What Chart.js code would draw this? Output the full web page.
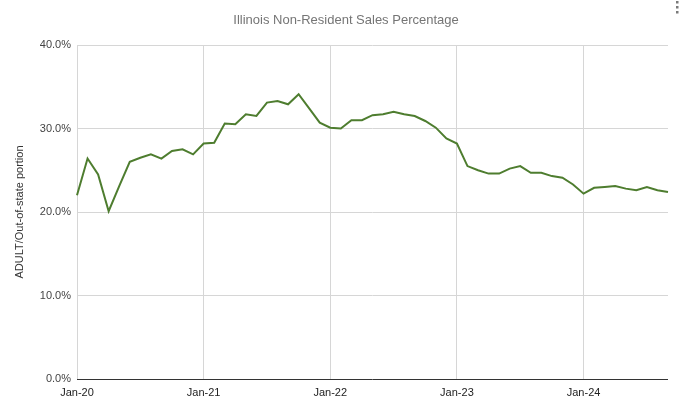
<!DOCTYPE html>
<html>
<head>
<meta charset="utf-8">
<script src="https://cdn.jsdelivr.net/npm/chart.js@4.4.1/dist/chart.umd.min.js"></script>
<style>
  html, body { margin: 0; padding: 0; background: #fff; }
  #wrap { width: 684px; height: 409px; position: relative; }
</style>
</head>
<body>
<div id="wrap"><canvas id="grafico" width="684" height="409"></canvas></div>
<script>
// Datos (porcentaje fuera del estado, mensual)
const meses = [];
const anios = ['20', '21', '22', '23', '24'];
const nombresMes = ['Jan', 'Feb', 'Mar', 'Apr', 'May', 'Jun', 'Jul', 'Aug', 'Sep', 'Oct', 'Nov', 'Dec'];
anios.forEach(a => nombresMes.forEach(m => meses.push(m + '-' + a)));
const etiquetas = meses.slice(0, 57); // Jan-20 .. Sep-24

const valores = [
  22.0, 26.4, 24.5, 20.1, 23.1, 26.0, 26.5, 26.9, 26.4, 27.3, 27.5, 26.9,
  28.2, 28.3, 30.6, 30.5, 31.7, 31.5, 33.1, 33.3, 32.9, 34.1, 32.4, 30.7,
  30.1, 30.0, 31.0, 31.0, 31.6, 31.7, 32.0, 31.7, 31.5, 30.9, 30.1, 28.8,
  28.2, 25.5, 25.0, 24.6, 24.6, 25.2, 25.5, 24.7, 24.7, 24.3, 24.1, 23.3,
  22.2, 22.9, 23.0, 23.1, 22.8, 22.6, 23.0, 22.6, 22.4
];

const titulo = 'Illinois Non-Resident Sales Percentage';
const tituloEje = 'ADULT/Out-of-state portion';

const fuente = "'Liberation Sans', Arial, sans-serif";

// Titulo y menu dibujados a mano
const extras = {
  id: 'extras',
  afterDraw(chart) {
    const ctx = chart.ctx;
    ctx.save();
    ctx.font = '13px ' + fuente;
    ctx.fillStyle = '#757575';
    ctx.textAlign = 'center';
    ctx.textBaseline = 'middle';
    ctx.fillText(titulo, 346, 20);
    // menu de tres puntos
    ctx.fillStyle = '#7a7a7a';
    [2, 7, 12].forEach(y => {
      ctx.fillRect(676, y - 1, 2.5, 2.5);
    });
    ctx.restore();
  }
};

new Chart(document.getElementById('grafico').getContext('2d'), {
  type: 'line',
  data: {
    labels: etiquetas,
    datasets: [{
      data: valores,
      borderColor: '#4e7d2f',
      borderWidth: 2,
      pointRadius: 0,
      tension: 0,
      fill: false
    }]
  },
  options: {
    responsive: false,
    animation: false,
    layout: { padding: { top: 45, right: 16, bottom: 0, left: 0 } },
    plugins: {
      legend: { display: false },
      tooltip: { enabled: false },
      title: { display: false }
    },
    scales: {
      x: {
        type: 'category',
        offset: false,
        border: { display: false },
        grid: {
          drawTicks: false,
          color: c => (c.index % 12 === 0 ? '#d6d6d6' : 'rgba(0,0,0,0)')
        },
        ticks: {
          autoSkip: false,
          maxRotation: 0,
          padding: 7,
          color: '#222',
          font: { family: fuente, size: 11 },
          callback: function (v, i) { return i % 12 === 0 ? this.getLabelForValue(v) : ''; }
        },
        afterFit: s => { s.height = 30; }
      },
      y: {
        min: 0,
        max: 40,
        border: { display: false },
        grid: {
          drawTicks: false,
          color: c => (c.tick.value === 0 ? '#333' : '#d6d6d6')
        },
        ticks: {
          stepSize: 10,
          padding: 6,
          color: '#444',
          font: { family: fuente, size: 11 },
          callback: v => v.toFixed(1) + '%'
        },
        title: {
          display: true,
          text: tituloEje,
          color: '#333',
          font: { family: fuente, size: 11 },
          padding: { top: 13, bottom: 0 }
        },
        afterFit: s => { s.width = 77; }
      }
    }
  },
  plugins: [extras]
});
</script>
</body>
</html>
